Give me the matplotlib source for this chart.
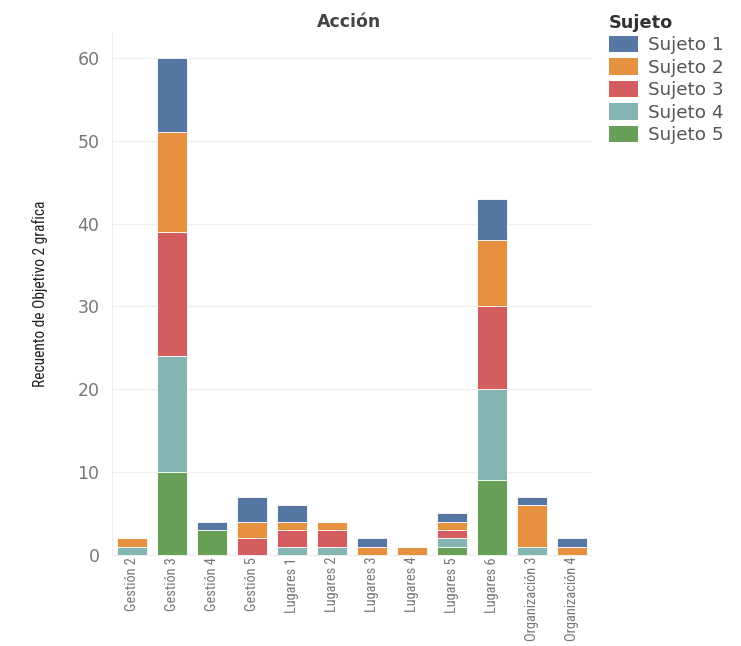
import matplotlib
matplotlib.use("Agg")
import matplotlib.pyplot as plt
import numpy as np
from matplotlib.patches import Patch
from matplotlib import font_manager as fm

categories = ["Gestión 2", "Gestión 3", "Gestión 4", "Gestión 5", "Lugares 1", "Lugares 2",
              "Lugares 3", "Lugares 4", "Lugares 5", "Lugares 6", "Organización 3", "Organización 4"]
series_names = ["Sujeto 1", "Sujeto 2", "Sujeto 3", "Sujeto 4", "Sujeto 5"]
sujeto5 = [0, 10, 3, 0, 0, 0, 0, 0, 1, 9, 0, 0]
sujeto4 = [1, 14, 0, 0, 1, 1, 0, 0, 1, 11, 1, 0]
sujeto3 = [0, 15, 0, 2, 2, 2, 0, 0, 1, 10, 0, 0]
sujeto2 = [1, 12, 0, 2, 1, 1, 1, 1, 1, 8, 5, 1]
sujeto1 = [0, 9, 1, 3, 2, 0, 1, 0, 1, 5, 1, 1]
colors = {"Sujeto 1": "#5677a4", "Sujeto 2": "#e5913f", "Sujeto 3": "#d45d5f",
          "Sujeto 4": "#84b5b2", "Sujeto 5": "#69a057"}
yticks = [0, 10, 20, 30, 40, 50, 60]

# pick a narrow font if one is installed
names = {f.name for f in fm.fontManager.ttflist}
narrow = None
for cand in ["Roboto Condensed", "Liberation Sans Narrow", "DejaVu Sans Condensed",
             "Open Sans Condensed", "Noto Sans Condensed"]:
    if cand in names:
        narrow = cand
        break
if narrow is None:
    narrow = "Liberation Sans"
narrow_stretch = "condensed"

fig = plt.figure(figsize=(7.41, 6.46), dpi=100)
ax = fig.add_axes([0.151, 0.141, 0.648, 0.808])

x = np.arange(len(categories))
bottom = np.zeros(len(categories))
stack = [("Sujeto 5", sujeto5), ("Sujeto 4", sujeto4), ("Sujeto 3", sujeto3),
         ("Sujeto 2", sujeto2), ("Sujeto 1", sujeto1)]
for name, vals in stack:
    v = np.array(vals, dtype=float)
    ax.bar(x, v, bottom=bottom, width=0.75, color=colors[name], edgecolor="white",
           linewidth=0.6, zorder=3)
    bottom += v

ax.set_xlim(-0.5, len(categories) - 0.5)
ax.set_ylim(0, 63)
ax.set_yticks(yticks)
ax.set_yticklabels([str(t) for t in yticks], color="#777777", fontsize=12.5)
ax.set_xticks(x)
ax.set_xticklabels(categories, rotation=90, color="#777777", fontsize=10.4,
                   family=narrow, fontstretch=narrow_stretch)
ax.tick_params(axis="y", length=0, pad=9)
ax.tick_params(axis="x", length=0, pad=1.5)
ax.grid(axis="y", color="#f0f0f0", linewidth=1, zorder=0)
for s in ["top", "right"]:
    ax.spines[s].set_visible(False)
ax.spines["left"].set_color("#eeeeee")
ax.spines["bottom"].set_color("#eeeeee")
ax.set_ylabel("Recuento de Objetivo 2 grafica", fontsize=11.2, color="#222222",
              family=narrow, fontstretch=narrow_stretch, labelpad=21)
fig.text(0.471, 0.966, "Acción", ha="center", va="center", fontsize=12.5,
         fontweight="bold", color="#444444")

handles = [Patch(facecolor=colors[n], edgecolor="none") for n in series_names]
leg = fig.legend(handles, series_names, loc="upper left", bbox_to_anchor=(0.812, 0.99),
                 title="Sujeto", frameon=False, fontsize=13.2, title_fontsize=12.8,
                 handlelength=1.6, handleheight=1.0, handletextpad=0.5,
                 labelspacing=0.22, alignment="left", borderaxespad=0)
leg.get_title().set_fontweight("bold")
leg.get_title().set_color("#333333")
for t in leg.get_texts():
    t.set_color("#555555")

fig.savefig("out.png", dpi=100, facecolor="white")
